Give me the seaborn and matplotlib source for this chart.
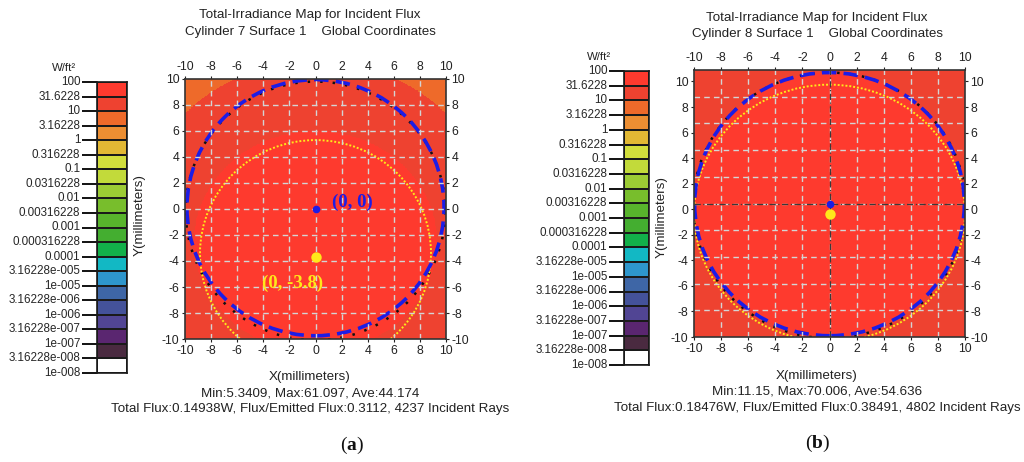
import numpy as np
import matplotlib
matplotlib.use('Agg')
import matplotlib.pyplot as plt
from matplotlib.colors import ListedColormap, BoundaryNorm
from matplotlib.patches import Ellipse
import seaborn as sns

# colour scale (top = highest)
band_labels = ["100", "31.6228", "10", "3.16228", "1", "0.316228", "0.1",
               "0.0316228", "0.01", "0.00316228", "0.001", "0.000316228",
               "0.0001", "3.16228e-005", "1e-005", "3.16228e-006", "1e-006",
               "3.16228e-007", "1e-007", "3.16228e-008", "1e-008"]
band_colors = ["#fe3a2e", "#ee4230", "#ee6a2a", "#ec8e32", "#e2b834",
               "#d2de3c", "#c2da3a", "#9ccb34", "#78be2c", "#58b42c",
               "#44ae30", "#12b04a", "#12b8c4", "#2e96cc", "#3e66a6",
               "#44529a", "#514594", "#5a2670", "#4a2a40", "#ffffff"]
band_exponents = np.arange(-8, 2.01, 0.5)

# panel (a): zone irradiance values, W/ft^2 (inner disk, ring, corners)
zone_irr_a = [44.0, 22.0, 7.5]
inner_zone_a = [0.0, -2.5, 9.3, 8.5]      # cx, cy, rx, ry
outer_zone_a = [0.0, -3.0, 14.4, 14.4]
blue_circle_a = [0.0, 0.1, 9.85, 9.85]
yellow_circle_a = [0.0, -3.4, 8.85, 8.7]
black_circle_a = [0.0, -0.15, 9.95, 9.95]
blue_dot_a = [0.0, 0.0]
yellow_dot_a = [0.0, -3.7]
ylim_a = [-10, 10]

# panel (b)
zone_irr_b = [55.0, 25.0, 25.0]
inner_zone_b = [0.0, 0.4, 9.95, 10.3]
outer_zone_b = [0.0, 0.0, 99.0, 99.0]
blue_circle_b = [0.0, 0.4, 9.95, 10.3]
yellow_circle_b = [0.0, -0.3, 10.0, 10.05]
black_circle_b = [0.0, 0.3, 10.05, 10.4]
blue_dot_b = [0.0, 0.39]
yellow_dot_b = [0.0, -0.4]
ylim_b = [-10, 10.9]

titles = [["Total-Irradiance Map for Incident Flux",
           "Cylinder 7 Surface 1    Global Coordinates"],
          ["Total-Irradiance Map for Incident Flux",
           "Cylinder 8 Surface 1    Global Coordinates"]]
stats = ["Min:5.3409, Max:61.097, Ave:44.174",
         "Min:11.15, Max:70.006, Ave:54.636"]
fluxes = ["Total Flux:0.14938W, Flux/Emitted Flux:0.3112, 4237 Incident Rays",
          "Total Flux:0.18476W, Flux/Emitted Flux:0.38491, 4802 Incident Rays"]
panel_tags = ["a", "b"]

sns.set_style("white")
plt.rcParams['font.family'] = ['Liberation Sans', 'DejaVu Sans']
plt.rcParams['mathtext.fontset'] = 'custom'
plt.rcParams['mathtext.bf'] = 'Liberation Serif:bold'

W, H = 1024, 462
fig = plt.figure(figsize=(W / 100, H / 100), dpi=100)


def rect(x0, y0, x1, y1):
    return [x0 / W, 1 - y1 / H, (x1 - x0) / W, (y1 - y0) / H]


def draw_colorbar(box, unit_xy):
    ax = fig.add_axes(rect(*box))
    grid = np.arange(len(band_colors)).reshape(-1, 1)
    sns.heatmap(grid, ax=ax, cmap=ListedColormap(band_colors), cbar=False,
                linewidths=1.2, linecolor="#1a1a1a", vmin=-0.5,
                vmax=len(band_colors) - 0.5)
    ax.set_xticks([])
    ax.set_yticks(np.arange(len(band_labels)))
    ax.set_yticklabels(band_labels, rotation=0)
    ax.tick_params(axis='y', direction='out', length=11, width=1.4,
                   color="#111111", labelsize=8.4, pad=1, left=True)
    for s in ax.spines.values():
        s.set_visible(True)
        s.set_color("#1a1a1a")
        s.set_linewidth(1.2)
    fig.text(unit_xy[0] / W, 1 - unit_xy[1] / H, "W/ft\u00b2", fontsize=8.2,
             ha='center', va='center', color="#222222")


def draw_map(box, ylim, irr, inner, outer, blue, yellow, black, bdot, ydot,
             center_lines):
    ax = fig.add_axes(rect(*box))
    xs = np.linspace(-10, 10, 401)
    ys = np.linspace(ylim[0], ylim[1], 401)
    X, Y = np.meshgrid(xs, ys)
    field = np.full(X.shape, irr[1])
    in_inner = ((X - inner[0]) / inner[2]) ** 2 + ((Y - inner[1]) / inner[3]) ** 2 <= 1
    out_outer = ((X - outer[0]) / outer[2]) ** 2 + ((Y - outer[1]) / outer[3]) ** 2 > 1
    field[in_inner] = irr[0]
    field[out_outer] = irr[2]
    cmap = ListedColormap(band_colors[::-1])
    norm = BoundaryNorm(10.0 ** band_exponents, cmap.N)
    ax.pcolormesh(xs, ys, field, cmap=cmap, norm=norm, shading='nearest')

    # dashed grid (10 divisions of each range)
    for gx in np.linspace(-10, 10, 11)[1:-1]:
        ax.axvline(gx, color="#d4d4d4", lw=1.0, dashes=(4, 3))
    for gy in np.linspace(ylim[0], ylim[1], 11)[1:-1]:
        ax.axhline(gy, color="#d4d4d4", lw=1.0, dashes=(4, 3))
    if center_lines:
        ax.axvline(0, color="#3a3a3a", lw=0.9, dashes=(5, 2, 1, 2))
        ax.axhline(np.mean(ylim), color="#3a3a3a", lw=0.9, dashes=(5, 2, 1, 2))

    ax.add_patch(Ellipse((black[0], black[1]), 2 * black[2], 2 * black[3],
                         fill=False, ec="#111111", lw=1.8, ls=(0, (1, 4))))
    ax.add_patch(Ellipse((yellow[0], yellow[1]), 2 * yellow[2], 2 * yellow[3],
                         fill=False, ec="#ffe81a", lw=1.4, ls=(0, (1, 1))))
    ax.add_patch(Ellipse((blue[0], blue[1]), 2 * blue[2], 2 * blue[3],
                         fill=False, ec="#1c1ce6", lw=2.6, ls=(0, (4, 2))))
    ax.plot(bdot[0], bdot[1], 'o', color="#1c1ce6", ms=5.5, mec='none')
    ax.plot(ydot[0], ydot[1], 'o', color="#ffe81a", ms=7.5, mec='none')

    ax.set_xlim(-10, 10)
    ax.set_ylim(*ylim)
    ticks = np.arange(-10, 11, 2)
    ax.set_xticks(ticks)
    ax.set_yticks(ticks)
    ax.set_xticklabels([str(t) for t in ticks])
    ax.set_yticklabels([str(t) for t in ticks])
    ax.tick_params(top=True, labeltop=True, right=True, labelright=True,
                   bottom=True, left=True, length=2, width=0.8,
                   labelsize=8.8, pad=2, colors="#222222")
    for s in ax.spines.values():
        s.set_color("#333333")
        s.set_linewidth(1.2)
    return ax


# panel (a)
draw_colorbar((97, 82, 127, 373), (64, 68))
ax_a = draw_map((185, 79, 446, 339), ylim_a, zone_irr_a, inner_zone_a,
                outer_zone_a, blue_circle_a, yellow_circle_a, black_circle_a,
                blue_dot_a, yellow_dot_a, False)
ax_a.text(1.3, 0.55, "(0, 0)", color="#1c1ce6", fontsize=13.5,
          fontweight='bold', family='Liberation Serif', va='center')
ax_a.text(-4.1, -5.7, "(0, -3.8)", color="#ffe81a", fontsize=13.5,
          fontweight='bold', family='Liberation Serif', va='center')

# panel (b)
draw_colorbar((624, 71, 649, 365), (599, 57))
draw_map((694, 70, 965, 337), ylim_b, zone_irr_b, inner_zone_b,
         outer_zone_b, blue_circle_b, yellow_circle_b, black_circle_b,
         blue_dot_b, yellow_dot_b, True)

# surrounding texts
layout = [dict(cx=310, t1=15, t2=32, ylab=(140, 215), xl=377, st=393,
               fx=409, tag=(352, 445)),
          dict(cx=817, t1=18, t2=34, ylab=(662, 217), xl=376, st=392,
               fx=408, tag=(818, 443))]
for i, L in enumerate(layout):
    kw = dict(ha='center', va='center', fontsize=9.6, color="#222222")
    fig.text(L['cx'] / W, 1 - L['t1'] / H, titles[i][0], **kw)
    fig.text(L['cx'] / W, 1 - L['t2'] / H, titles[i][1], **kw)
    fig.text(L['ylab'][0] / W, 1 - L['ylab'][1] / H, "Y(millimeters)",
             rotation=90, **kw)
    fig.text(L['cx'] / W, 1 - L['xl'] / H, "X(millimeters)", **kw)
    fig.text(L['cx'] / W, 1 - L['st'] / H, stats[i], **kw)
    fig.text(L['cx'] / W, 1 - L['fx'] / H, fluxes[i], **kw)
    fig.text(L['tag'][0] / W, 1 - L['tag'][1] / H,
             "(" + r"$\mathbf{" + panel_tags[i] + "}$" + ")",
             ha='center', va='center', fontsize=14,
             family='Liberation Serif', color="#111111")

fig.savefig("out.png", dpi=100)
